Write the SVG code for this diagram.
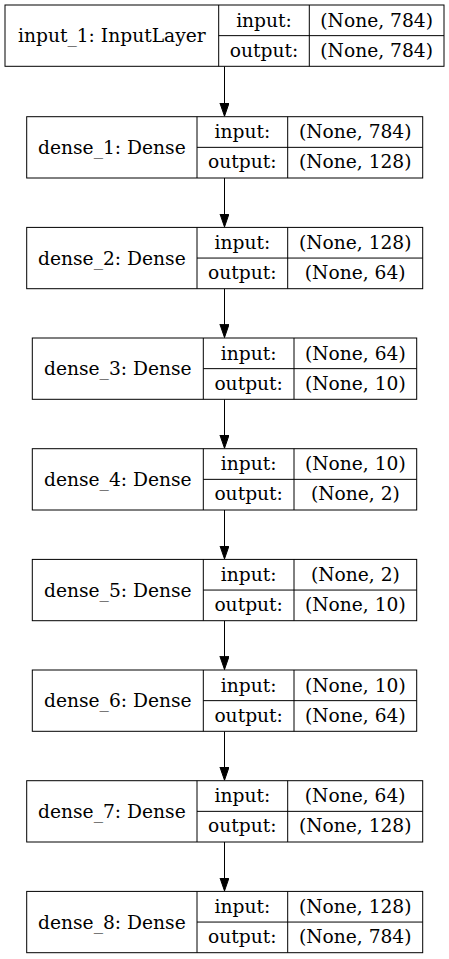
<svg xmlns="http://www.w3.org/2000/svg" width="449" height="959" viewBox="0 0 449 959">
<style>
  .box { fill: #ffffff; stroke: #000000; stroke-width: 1; }
  .ln { stroke: #000000; stroke-width: 1; fill: none; }
  text { font-family: "DejaVu Serif", "Liberation Serif", serif; font-size: 18.67px; fill: #000000; text-anchor: middle; }
</style>
<defs>
  <marker id="arr" markerUnits="userSpaceOnUse" markerWidth="14" markerHeight="10" refX="13.3" refY="4.6" orient="auto">
    <path d="M0,0 L13.3,4.6 L0,9.2 z" fill="#000000" stroke="#000000" stroke-width="1"/>
  </marker>
</defs>
<rect width="449" height="959" fill="#ffffff"/>
<g id="connectors">
  <line class="ln" x1="224.5" y1="66.3" x2="224.5" y2="116.2" marker-end="url(#arr)"/>
  <line class="ln" x1="224.5" y1="178" x2="224.5" y2="226.9" marker-end="url(#arr)"/>
  <line class="ln" x1="224.5" y1="288.7" x2="224.5" y2="337.5" marker-end="url(#arr)"/>
  <line class="ln" x1="224.5" y1="399.3" x2="224.5" y2="448.2" marker-end="url(#arr)"/>
  <line class="ln" x1="224.5" y1="510" x2="224.5" y2="558.9" marker-end="url(#arr)"/>
  <line class="ln" x1="224.5" y1="620.7" x2="224.5" y2="669.5" marker-end="url(#arr)"/>
  <line class="ln" x1="224.5" y1="731.3" x2="224.5" y2="780.2" marker-end="url(#arr)"/>
  <line class="ln" x1="224.5" y1="842" x2="224.5" y2="890.9" marker-end="url(#arr)"/>
</g>
<g id="input_1" transform="translate(0,5)">
  <rect class="box" x="5" y="0" width="439" height="61.3"/>
  <line class="ln" x1="218.7" y1="0" x2="218.7" y2="61.3"/>
  <line class="ln" x1="218.7" y1="30.65" x2="444" y2="30.65"/>
  <line class="ln" x1="309.3" y1="0" x2="309.3" y2="61.3"/>
  <text x="111.85" y="37.3">input_1: InputLayer</text>
  <text x="264" y="21.7">input:</text>
  <text x="264" y="51.8">output:</text>
  <text x="376.65" y="21.7">(None, 784)</text>
  <text x="376.65" y="51.8">(None, 784)</text>
</g>
<g id="dense_1" transform="translate(0,116.7)">
  <rect class="box" x="26.7" y="0" width="396" height="61.3"/>
  <line class="ln" x1="197" y1="0" x2="197" y2="61.3"/>
  <line class="ln" x1="197" y1="30.65" x2="422.7" y2="30.65"/>
  <line class="ln" x1="287.7" y1="0" x2="287.7" y2="61.3"/>
  <text x="111.85" y="37.3">dense_1: Dense</text>
  <text x="242.35" y="21.7">input:</text>
  <text x="242.35" y="51.8">output:</text>
  <text x="355.2" y="21.7">(None, 784)</text>
  <text x="355.2" y="51.8">(None, 128)</text>
</g>
<g id="dense_2" transform="translate(0,227.4)">
  <rect class="box" x="26.7" y="0" width="396" height="61.3"/>
  <line class="ln" x1="197" y1="0" x2="197" y2="61.3"/>
  <line class="ln" x1="197" y1="30.65" x2="422.7" y2="30.65"/>
  <line class="ln" x1="287.7" y1="0" x2="287.7" y2="61.3"/>
  <text x="111.85" y="37.3">dense_2: Dense</text>
  <text x="242.35" y="21.7">input:</text>
  <text x="242.35" y="51.8">output:</text>
  <text x="355.2" y="21.7">(None, 128)</text>
  <text x="355.2" y="51.8">(None, 64)</text>
</g>
<g id="dense_3" transform="translate(0,338)">
  <rect class="box" x="32.3" y="0" width="384.4" height="61.3"/>
  <line class="ln" x1="203.3" y1="0" x2="203.3" y2="61.3"/>
  <line class="ln" x1="203.3" y1="30.65" x2="416.7" y2="30.65"/>
  <line class="ln" x1="294" y1="0" x2="294" y2="61.3"/>
  <text x="117.8" y="37.3">dense_3: Dense</text>
  <text x="248.65" y="21.7">input:</text>
  <text x="248.65" y="51.8">output:</text>
  <text x="355.35" y="21.7">(None, 64)</text>
  <text x="355.35" y="51.8">(None, 10)</text>
</g>
<g id="dense_4" transform="translate(0,448.7)">
  <rect class="box" x="32.3" y="0" width="384.4" height="61.3"/>
  <line class="ln" x1="203.3" y1="0" x2="203.3" y2="61.3"/>
  <line class="ln" x1="203.3" y1="30.65" x2="416.7" y2="30.65"/>
  <line class="ln" x1="294" y1="0" x2="294" y2="61.3"/>
  <text x="117.8" y="37.3">dense_4: Dense</text>
  <text x="248.65" y="21.7">input:</text>
  <text x="248.65" y="51.8">output:</text>
  <text x="355.35" y="21.7">(None, 10)</text>
  <text x="355.35" y="51.8">(None, 2)</text>
</g>
<g id="dense_5" transform="translate(0,559.4)">
  <rect class="box" x="32.3" y="0" width="384.4" height="61.3"/>
  <line class="ln" x1="203.3" y1="0" x2="203.3" y2="61.3"/>
  <line class="ln" x1="203.3" y1="30.65" x2="416.7" y2="30.65"/>
  <line class="ln" x1="294" y1="0" x2="294" y2="61.3"/>
  <text x="117.8" y="37.3">dense_5: Dense</text>
  <text x="248.65" y="21.7">input:</text>
  <text x="248.65" y="51.8">output:</text>
  <text x="355.35" y="21.7">(None, 2)</text>
  <text x="355.35" y="51.8">(None, 10)</text>
</g>
<g id="dense_6" transform="translate(0,670)">
  <rect class="box" x="32.3" y="0" width="384.4" height="61.3"/>
  <line class="ln" x1="203.3" y1="0" x2="203.3" y2="61.3"/>
  <line class="ln" x1="203.3" y1="30.65" x2="416.7" y2="30.65"/>
  <line class="ln" x1="294" y1="0" x2="294" y2="61.3"/>
  <text x="117.8" y="37.3">dense_6: Dense</text>
  <text x="248.65" y="21.7">input:</text>
  <text x="248.65" y="51.8">output:</text>
  <text x="355.35" y="21.7">(None, 10)</text>
  <text x="355.35" y="51.8">(None, 64)</text>
</g>
<g id="dense_7" transform="translate(0,780.7)">
  <rect class="box" x="26.7" y="0" width="396" height="61.3"/>
  <line class="ln" x1="197" y1="0" x2="197" y2="61.3"/>
  <line class="ln" x1="197" y1="30.65" x2="422.7" y2="30.65"/>
  <line class="ln" x1="287.7" y1="0" x2="287.7" y2="61.3"/>
  <text x="111.85" y="37.3">dense_7: Dense</text>
  <text x="242.35" y="21.7">input:</text>
  <text x="242.35" y="51.8">output:</text>
  <text x="355.2" y="21.7">(None, 64)</text>
  <text x="355.2" y="51.8">(None, 128)</text>
</g>
<g id="dense_8" transform="translate(0,891.4)">
  <rect class="box" x="26.7" y="0" width="396" height="61.3"/>
  <line class="ln" x1="197" y1="0" x2="197" y2="61.3"/>
  <line class="ln" x1="197" y1="30.65" x2="422.7" y2="30.65"/>
  <line class="ln" x1="287.7" y1="0" x2="287.7" y2="61.3"/>
  <text x="111.85" y="37.3">dense_8: Dense</text>
  <text x="242.35" y="21.7">input:</text>
  <text x="242.35" y="51.8">output:</text>
  <text x="355.2" y="21.7">(None, 128)</text>
  <text x="355.2" y="51.8">(None, 784)</text>
</g>
</svg>
